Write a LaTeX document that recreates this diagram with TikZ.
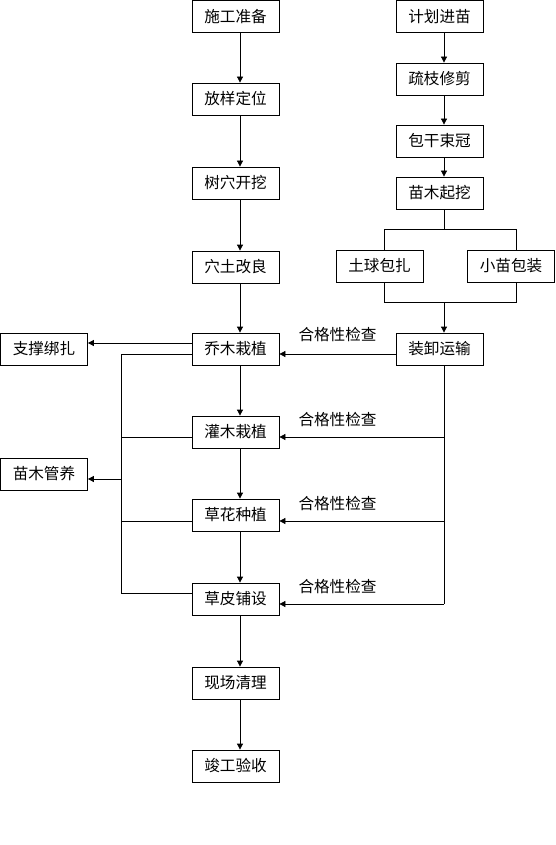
\documentclass[tikz,border=0pt]{standalone}
\usepackage{fontspec}
\setmainfont{Noto Sans CJK SC}
\usetikzlibrary{arrows.meta}
\begin{document}
\begin{tikzpicture}[x=1pt,y=-1pt,
  box/.style={draw,line width=0.8pt,minimum width=87pt,minimum height=32pt,inner sep=0pt,font=\fontsize{15.6}{18}\selectfont},
  ln/.style={line width=0.8pt},
  arr/.style={line width=0.8pt,-{Triangle[length=6pt,width=6pt]}},
  lbl/.style={font=\fontsize{15.6}{18}\selectfont,inner sep=0pt}]
\useasboundingbox (0,0) rectangle (555,845);
\fill[white] (0,0) rectangle (555,845);
% left column
\node[box] (a1) at (235.5,16.5) {施工准备};
\node[box] (a2) at (235.5,99) {放样定位};
\node[box] (a3) at (235.5,183) {树穴开挖};
\node[box] (a4) at (235.5,267) {穴土改良};
\node[box] (a5) at (235.5,349) {乔木栽植};
\node[box] (a6) at (235.5,432) {灌木栽植};
\node[box] (a7) at (235.5,515) {草花种植};
\node[box] (a8) at (235.5,599) {草皮铺设};
\node[box] (a9) at (235.5,683) {现场清理};
\node[box] (a10) at (235.5,766) {竣工验收};
% right column
\node[box] (b1) at (439.5,16.5) {计划进苗};
\node[box] (b2) at (439.5,79) {疏枝修剪};
\node[box] (b3) at (439.5,141) {包干束冠};
\node[box] (b4) at (439.5,193) {苗木起挖};
\node[box] (c1) at (379.5,266) {土球包扎};
\node[box] (c2) at (511,266) {小苗包装};
\node[box] (b5) at (439.5,349) {装卸运输};
% side boxes
\node[box] (s1) at (44,349) {支撑绑扎};
\node[box] (s2) at (44,474) {苗木管养};
% column lines
\coordinate (cl) at (240,0);
\coordinate (cr) at (444,0);
\coordinate (bl) at (384,0);
\coordinate (br) at (516,0);
\coordinate (vl) at (121,0);
\coordinate (t1) at (0,229);
\coordinate (t2) at (0,302);
% left chain
\foreach \i/\j in {a1/a2,a2/a3,a3/a4,a4/a5,a5/a6,a6/a7,a7/a8,a8/a9,a9/a10}
  \draw[arr] (\i.south -| cl) -- (\j.north -| cl);
% right chain
\foreach \i/\j in {b1/b2,b2/b3,b3/b4}
  \draw[arr] (\i.south -| cr) -- (\j.north -| cr);
% split bracket
\draw[ln] (b4.south -| cr) -- (t1 -| cr);
\draw[ln] (c1.north -| bl) -- (t1 -| bl) -- (t1 -| br) -- (c2.north -| br);
\draw[ln] (c1.south -| bl) -- (t2 -| bl) -- (t2 -| br) -- (c2.south -| br);
\draw[arr] (t2 -| cr) -- (b5.north -| cr);
% feedback
\coordinate (f1) at (0,354);
\coordinate (f2) at (0,437);
\coordinate (f3) at (0,521);
\coordinate (f4) at (0,604);
\draw[arr] (b5.west |- f1) -- (a5.east |- f1);
\draw[ln] (b5.south -| cr) -- (f4 -| cr);
\draw[arr] (f2 -| cr) -- (a6.east |- f2);
\draw[arr] (f3 -| cr) -- (a7.east |- f3);
\draw[arr] (f4 -| cr) -- (a8.east |- f4);
\node[lbl] (l1) at (337.5,335) {合格性检查};
\node[lbl] (l2) at (337.5,420) {合格性检查};
\node[lbl] (l3) at (337.5,504) {合格性检查};
\node[lbl] (l4) at (337.5,587) {合格性检查};
% left side
\coordinate (g1) at (0,343);
\coordinate (g5) at (0,354);
\coordinate (g2) at (0,437);
\coordinate (g3) at (0,521);
\coordinate (g4) at (0,593);
\coordinate (g6) at (0,479);
\draw[arr] (a5.west |- g1) -- (s1.east |- g1);
\draw[ln] (a5.west |- g5) -- (g5 -| vl) -- (g4 -| vl) -- (a8.west |- g4);
\draw[ln] (a6.west |- g2) -- (g2 -| vl);
\draw[ln] (a7.west |- g3) -- (g3 -| vl);
\draw[arr] (g6 -| vl) -- (s2.east |- g6);
\end{tikzpicture}
\end{document}
